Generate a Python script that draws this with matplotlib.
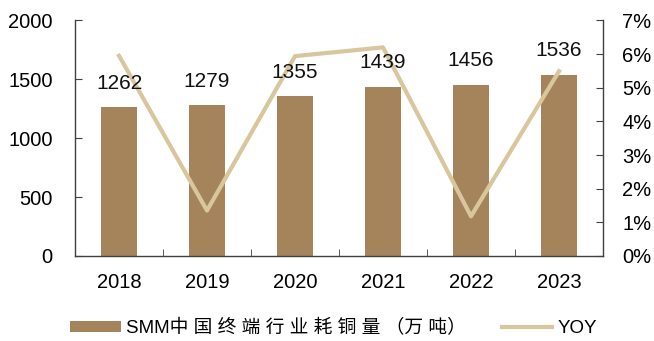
import matplotlib
matplotlib.use("Agg")
import matplotlib.pyplot as plt
import numpy as np

plt.rcParams['font.family'] = ['Liberation Sans', 'Noto Sans CJK SC', 'DejaVu Sans']

years = ["2018", "2019", "2020", "2021", "2022", "2023"]
consumption = [1262, 1279, 1355, 1439, 1456, 1536]
yoy = [5.95, 1.35, 5.94, 6.20, 1.18, 5.49]
bar_label = "SMM中 国 终 端 行 业 耗 铜 量 （万 吨）"
line_label = "YOY"

bar_color = "#A6845B"
line_color = "#D8C69D"
axis_color = "#404040"
fs = 14.5

fig = plt.figure(figsize=(6.54, 3.41), dpi=100)
ax = fig.add_axes([0.1147, 0.2493, 0.8073, 0.6907])
x = np.arange(len(years))

bars = ax.bar(x, consumption, width=0.4, color=bar_color, zorder=2)

ax.set_xlim(-0.5, len(years) - 0.5)
ax.set_ylim(0, 2000)
ax.set_yticks([0, 500, 1000, 1500, 2000])
ax.set_xticks(x)
ax.set_xticklabels(years)
ax.set_xticks(np.arange(0.5, len(years) - 1, 1.0), minor=True)
ax.tick_params(axis="x", which="major", length=0, pad=12, labelsize=fs)
ax.tick_params(axis="x", which="minor", direction="in", length=5, color=axis_color)
ax.tick_params(axis="y", direction="in", length=5, pad=16, labelsize=fs, color=axis_color)

ax2 = ax.twinx()
ln, = ax2.plot(x, yoy, color=line_color, lw=3, zorder=3)
ax2.set_ylim(0, 7)
ax2.set_yticks(range(0, 8))
ax2.set_yticklabels([f"{i}%" for i in range(0, 8)])
ax2.tick_params(axis="y", direction="in", length=5, pad=14, labelsize=fs, color=axis_color)

# value labels sit above the bars and on top of the growth line
for xi, v in zip(x, consumption):
    ax2.annotate(f"{v}", (xi, v), xycoords=ax.transData, xytext=(0, 17.5),
                 textcoords="offset points", ha="center", va="center",
                 fontsize=15, color="#111111", zorder=5)

for a in (ax, ax2):
    a.spines["top"].set_visible(False)
    for s in ("left", "right", "bottom"):
        a.spines[s].set_color(axis_color)
        a.spines[s].set_linewidth(1.0)
ax.spines["right"].set_visible(False)
ax2.spines["left"].set_visible(False)
ax2.spines["bottom"].set_visible(False)

fig.legend([bars, ln], [bar_label, line_label], loc="center", bbox_to_anchor=(0.51, 0.038),
           ncol=2, frameon=False, fontsize=13.5, handlelength=2.7, handleheight=0.54,
           handletextpad=0.27, columnspacing=1.9)

fig.savefig("out.png", dpi=100)
